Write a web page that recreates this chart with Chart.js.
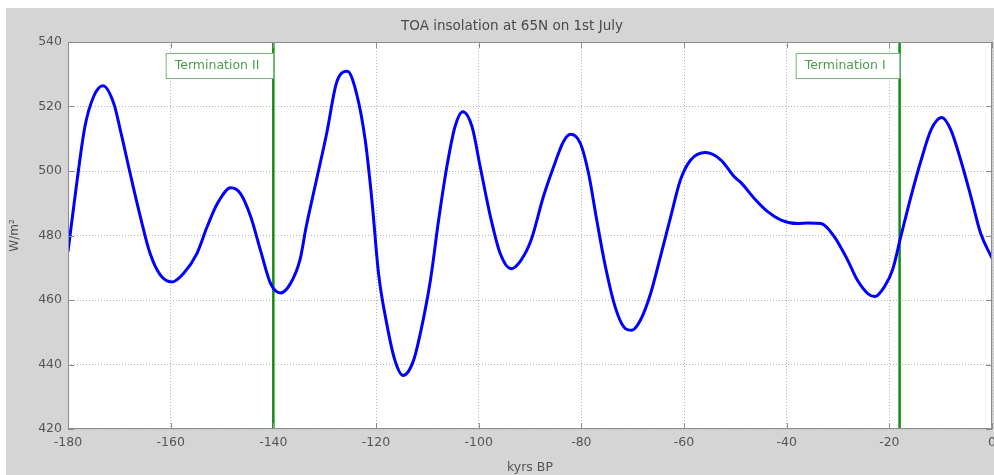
<!DOCTYPE html>
<html>
<head>
<meta charset="utf-8">
<title>TOA insolation at 65N on 1st July</title>
<script src="https://cdn.jsdelivr.net/npm/chart.js@4"></script>
<style>
  body { margin: 0; background: #fff; }
  #wrap { position: absolute; left: 6px; top: 8px; width: 988px; height: 467px; background: #d5d5d5; }
</style>
</head>
<body>
<div id="wrap"><canvas id="myChart" width="988" height="467"></canvas></div>
<script>
// kyr before present (x) and insolation in W/m2 (y)
let kyrs = [
  -180, -178.3, -176.7, -175, -173.2, -171.1, -169.8, -167.9, -165.9, -164,
  -162, -159.7, -157.5, -154.9, -152.9, -150.9, -148.3, -146.4, -144.4, -142.5,
  -140.5, -138.6, -136.7, -134.8, -133.6, -131.6, -129.6, -127.7, -125.6, -123.8,
  -122.1, -120.8, -119.5, -117.9, -116.3, -114.7, -112.7, -111.1, -109.4, -107.8,
  -106.2, -104.6, -103.1, -101.3, -99.7, -97.7, -95.8, -93.7, -91.9, -89.8,
  -87.4, -85.4, -83.5, -82.1, -80.2, -78.6, -77, -75.3, -73.4, -71.7,
  -70.2, -68.5, -66.5, -64.6, -62.6, -60.7, -58.7, -55.8, -52.8, -50.2,
  -48.9, -46.3, -43.7, -41.1, -37.9, -35.9, -33.3, -30.7, -28.1, -26.2,
  -24.2, -22.8, -21, -19.4, -17.7, -15.8, -13.8, -11.9, -9.8, -8,
  -6.1, -4.1, -2.2, 0
];
let insolation = [
  475, 496.2, 513.8, 523.1, 526.4, 521, 512.7, 499.3, 485.8, 474.4,
  467.7, 465.6, 468.2, 474.4, 482.7, 489.9, 494.8, 493, 485.8, 475.4,
  465, 462.2, 465, 472.5, 482.7, 497.2, 511.7, 527.3, 530.9, 524.1,
  509.6, 491, 468.2, 452.6, 441.2, 436.6, 441.2, 451.6, 466.1, 484.8,
  501.3, 513.8, 518.4, 513.8, 501.3, 485.8, 474.4, 469.7, 472, 478.5,
  492, 501.3, 509.1, 511.4, 508.6, 499.3, 484.8, 470.3, 457.8, 451.6,
  450.6, 453.7, 462, 473.4, 485.8, 497.2, 503.4, 505.7, 503.4, 498.2,
  496.4, 491.5, 487.4, 484.8, 483.7, 483.9, 483.7, 479.6, 472.3, 466.1,
  462, 461.1, 464, 469.2, 480.1, 492, 503.4, 512.7, 516.6, 512.7,
  503.4, 492, 480.6, 473
];

// glacial terminations marked on the plot
let terminations = [-140, -18];
let terminationLabels = ['Termination II', 'Termination I'];

let xTicks = [-180, -160, -140, -120, -100, -80, -60, -40, -20, 0];
let yTicks = [420, 440, 460, 480, 500, 520, 540];

let titleText = 'TOA insolation at 65N on 1st July';
let fontFamily = '"DejaVu Sans", sans-serif';

let points = kyrs.map(function(k, i) { return {x: k, y: insolation[i]}; });

let datasets = [{
  data: points,
  borderColor: '#0000ff',
  borderWidth: 3,
  pointRadius: 0,
  cubicInterpolationMode: 'monotone',
  fill: false
}];

terminations.forEach(function(t) {
  datasets.push({
    data: [{x: t, y: yTicks[0]}, {x: t, y: yTicks[yTicks.length - 1]}],
    borderColor: '#138a13',
    borderWidth: 2.5,
    pointRadius: 0,
    fill: false
  });
});

// white axes background
let plotBackground = {
  id: 'plotBackground',
  beforeDraw: function(chart) {
    let a = chart.chartArea;
    chart.ctx.save();
    chart.ctx.fillStyle = '#ffffff';
    chart.ctx.fillRect(a.left, a.top, a.right - a.left, a.bottom - a.top);
    chart.ctx.restore();
  }
};

// matlab style frame, inner ticks, label boxes and title
let decorations = {
  id: 'decorations',
  afterDatasetsDraw: function(chart) {
    let ctx = chart.ctx;
    let area = chart.chartArea;
    let xs = chart.scales.x;
    let ys = chart.scales.y;
    ctx.save();

    ctx.strokeStyle = '#8c8c8c';
    ctx.lineWidth = 1;
    ctx.strokeRect(area.left + 0.5, area.top + 0.5, area.right - area.left - 1, area.bottom - area.top - 1);
    ctx.beginPath();
    xTicks.forEach(function(v) {
      let px = Math.round(xs.getPixelForValue(v)) + 0.5;
      ctx.moveTo(px, area.bottom); ctx.lineTo(px, area.bottom - 6);
      ctx.moveTo(px, area.top); ctx.lineTo(px, area.top + 6);
    });
    yTicks.forEach(function(v) {
      let py = Math.round(ys.getPixelForValue(v)) + 0.5;
      ctx.moveTo(area.left, py); ctx.lineTo(area.left + 6, py);
      ctx.moveTo(area.right, py); ctx.lineTo(area.right - 6, py);
    });
    ctx.stroke();

    ctx.font = '12.5px ' + fontFamily;
    ctx.textBaseline = 'middle';
    ctx.textAlign = 'left';
    terminations.forEach(function(t, i) {
      let px = xs.getPixelForValue(t);
      let w = ctx.measureText(terminationLabels[i]).width + 23;
      let top = area.top + 11;
      ctx.fillStyle = '#ffffff';
      ctx.fillRect(px - w, top, w, 26);
      ctx.strokeStyle = '#7ab47a';
      ctx.strokeRect(px - w + 0.5, top + 0.5, w, 25);
      ctx.fillStyle = '#4a9e4a';
      ctx.fillText(terminationLabels[i], px - w + 9, top + 13);
    });

    ctx.font = '13.5px ' + fontFamily;
    ctx.fillStyle = '#4a4a4a';
    ctx.textAlign = 'center';
    ctx.fillText(titleText, (area.left + area.right) / 2 - 18, 18);
    ctx.restore();
  }
};

let ctx = document.getElementById('myChart');
let myChart = new Chart(ctx, {
  type: 'line',
  data: { datasets: datasets },
  options: {
    responsive: false,
    animation: false,
    layout: { padding: { top: 34, right: 2 } },
    plugins: {
      legend: { display: false },
      tooltip: { enabled: false },
      title: { display: false }
    },
    scales: {
      x: {
        type: 'linear',
        min: -180,
        max: 0,
        afterBuildTicks: function(scale) {
          scale.ticks = xTicks.map(function(v) { return {value: v}; });
        },
        afterFit: function(scale) {
          scale.height = 46;
          scale.paddingLeft = 0;
          scale.paddingRight = 0;
        },
        grid: { color: '#b5b5b5', drawTicks: false },
        border: { display: false, dash: [1, 2] },
        ticks: { color: '#555', font: { family: fontFamily, size: 12.5 }, padding: 6, maxRotation: 0 },
        title: { display: true, text: 'kyrs BP', color: '#555', font: { family: fontFamily, size: 12.5 }, padding: { top: 2, bottom: 0 } }
      },
      y: {
        min: 420,
        max: 540,
        afterBuildTicks: function(scale) {
          scale.ticks = yTicks.map(function(v) { return {value: v}; });
        },
        afterFit: function(scale) {
          scale.width = 62;
          scale.paddingTop = 0;
          scale.paddingBottom = 0;
        },
        grid: { color: '#b5b5b5', drawTicks: false },
        border: { display: false, dash: [1, 2] },
        ticks: { color: '#555', font: { family: fontFamily, size: 12.5 }, padding: 6 },
        title: { display: true, text: 'W/m²', color: '#555', font: { family: fontFamily, size: 12 }, padding: { top: 2, bottom: 2 } }
      }
    }
  },
  plugins: [plotBackground, decorations]
});
</script>
</body>
</html>
